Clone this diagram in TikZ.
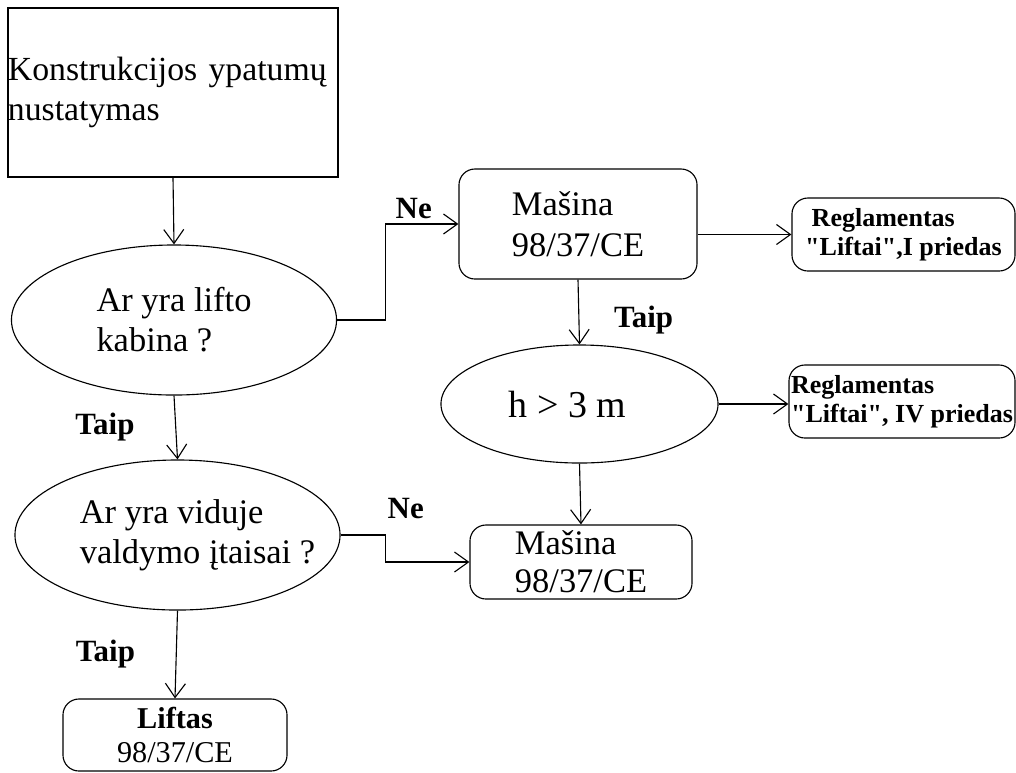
\documentclass[tikz,border=0pt]{standalone}
\usepackage{fontspec}
\setmainfont{Liberation Serif}[Ligatures=TeXOff]
\usepackage{tikz}
\usetikzlibrary{arrows.meta,shapes.geometric}
\tikzstyle{box} = [draw, rectangle, line width=0.8pt, inner sep=0pt, font=\fontsize{24.5}{28.5}\selectfont]
\tikzstyle{rbox} = [box, rounded corners=0.4cm]
\tikzstyle{dec} = [draw, ellipse, line width=0.8pt, inner sep=0pt, font=\fontsize{24.5}{28.5}\selectfont]
\tikzstyle{lab} = [font=\bfseries\fontsize{22}{24}\selectfont]
\tikzstyle{arr} = [line width=0.8pt, -{Straight Barb[length=3.5mm,width=5mm]}]

\begin{document}
\begin{tikzpicture}[x=0.025cm, y=-0.025cm]
  \useasboundingbox (0,0) rectangle (1016,772);
  \node[box, minimum width=8.25cm, minimum height=4.225cm, text width=8.25cm, align=left, font=\fontsize{24}{28}\selectfont] (kons) at (173,92.5) {Konstrukcijos ypatumų\\nustatymas};
  \node[dec, minimum width=8.125cm, minimum height=3.75cm, align=left] (kab) at (174,320) {Ar yra lifto\\kabina ?};
  \node[dec, minimum width=8.125cm, minimum height=3.75cm, align=left, inner xsep=-1cm] (vald) at (177.5,535) {\hspace*{1cm}Ar yra viduje\\\hspace*{1cm}valdymo įtaisai ?};
  \node[rbox, minimum width=5.6cm, minimum height=1.8cm, align=center, font=\fontsize{21.5}{23.5}\selectfont] (lift) at (175,735) {\textbf{Liftas}\\98/37/CE};

  \node[rbox, minimum width=5.95cm, minimum height=2.75cm, align=left, font=\fontsize{24.5}{29}\selectfont] (mas1) at (578,224) {Mašina\\98/37/CE};
  \node[dec, minimum width=6.925cm, minimum height=2.95cm, font=\fontsize{27}{30}\selectfont] (h3) at (579.5,404) {h > 3 m\hspace*{0.6cm}};
  \node[rbox, minimum width=5.55cm, minimum height=1.85cm, align=left, font=\fontsize{24.5}{27}\selectfont] (mas2) at (581,562) {Mašina\\98/37/CE};

  \node[rbox, minimum width=5.575cm, minimum height=1.825cm, align=left, font=\bfseries\fontsize{18.5}{21}\selectfont] (reg1) at (903.5,234.5) {\ Reglamentas\\"Liftai",I priedas};
  \node[rbox, minimum width=5.65cm, minimum height=1.825cm, align=left, font=\bfseries\fontsize{18.5}{21}\selectfont] (reg2) at (902,401.5) {Reglamentas\\"Liftai", IV priedas};

  \draw[arr] (kons.south) -- (kab.north);
  \draw[arr] (kab.south) -- (vald.north) node[lab, midway, left=0.9cm] (t1) {Taip};
  \draw[arr] (vald.south) -- (lift.north) node[lab, midway, left=0.9cm] (t2) {Taip};
  \draw[arr] (kab.east) -- ++(48,0) |- (mas1.west) node[lab, pos=0.75, above=0pt, xshift=-0.2cm] (n1) {Ne};
  \draw[arr] (vald.east) -- ++(45,0) |- (mas2.west) node[lab, pos=0.62, above=0.95cm] (n2) {Ne};
  \draw[arr] (mas1.south) -- (h3.north) node[lab, midway, right=0.75cm, yshift=-0.2cm] (t3) {Taip};
  \draw[arr] (h3.south) -- (mas2.north);
  \draw[arr] (mas1.east |- reg1.west) -- (reg1.west);
  \draw[arr] (h3.east) -- (h3.east -| reg2.west);
\end{tikzpicture}
\end{document}
